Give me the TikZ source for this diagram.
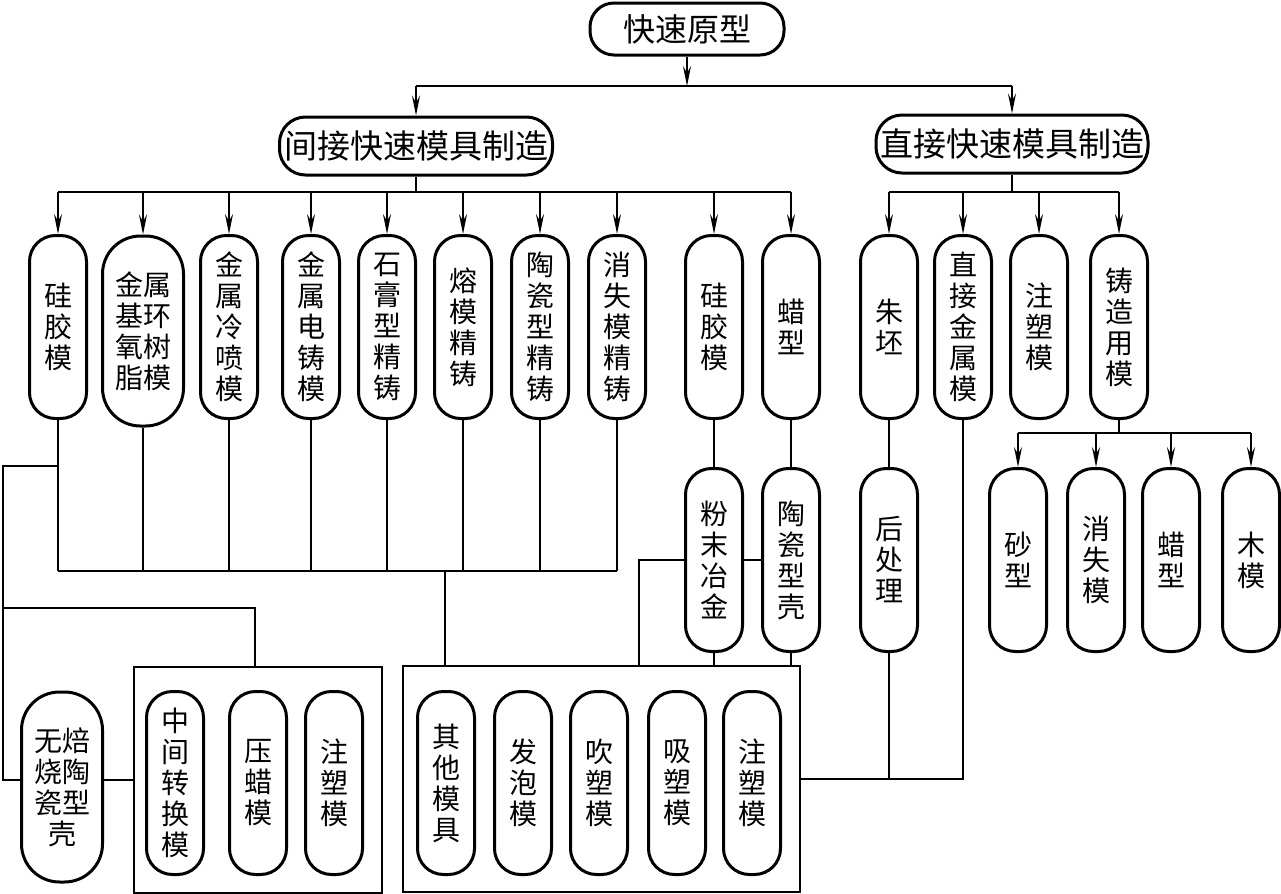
\documentclass[tikz,border=0pt]{standalone}
\usepackage{fontspec}
\setmainfont{Noto Sans CJK SC}
\usetikzlibrary{arrows.meta,fit}

\begin{document}
\begin{tikzpicture}[x=0.5pt, y=-0.5pt, line width=0.7pt,
    every node/.style={font=\fontsize{14pt}{15.5pt}\selectfont, align=center, inner sep=0pt},
    pill/.style={draw, line width=1.5pt, fill=white, rounded corners=13pt, minimum width=28.5pt, minimum height=91.5pt},
    widepill/.style={pill, minimum width=40.5pt, minimum height=95pt, rounded corners=19pt},
    head/.style={draw, line width=1.5pt, fill=white, rounded corners=13pt, minimum height=29pt, font=\fontsize{16.5pt}{18pt}\selectfont},
    arr/.style={-{Stealth[length=10pt, width=4pt, inset=3.5pt]}}]
    \useasboundingbox (0,0) rectangle (1281,894);
    \node[head, minimum width=97pt, minimum height=26pt, rounded corners=12pt, font=\fontsize{16pt}{18pt}\selectfont] (ks) at (687,29) {快速原型};
    \node[head, minimum width=136.5pt] (jj) at (416,146) {间接快速模具制造};
    \node[head, minimum width=136pt] (zz) at (1012,144) {直接快速模具制造};
    \node[pill] (gj1) at (58,327) {硅\\胶\\模};
    \node[widepill] (jh) at (143,331) {金属\\基环\\氧树\\脂模};
    \node[pill] (jl) at (229,327) {金\\属\\冷\\喷\\模};
    \node[pill] (jd) at (311,327) {金\\属\\电\\铸\\模};
    \node[pill] (sg) at (387,327) {石\\膏\\型\\精\\铸};
    \node[pill] (rm) at (463,327) {熔\\模\\精\\铸};
    \node[pill] (tc) at (540,327) {陶\\瓷\\型\\精\\铸};
    \node[pill] (xs) at (617,327) {消\\失\\模\\精\\铸};
    \node[pill] (gj2) at (714,327) {硅\\胶\\模};
    \node[pill] (lx1) at (791,327) {蜡\\型};
    \node[pill] (zp) at (889,327) {朱\\坯};
    \node[pill] (zj) at (963,327) {直\\接\\金\\属\\模};
    \node[pill] (zs1) at (1039,327) {注\\塑\\模};
    \node[pill] (zy) at (1119,327) {铸\\造\\用\\模};
    \node[pill] (fm) at (714,560) {粉\\末\\冶\\金};
    \node[pill] (tk) at (791,560) {陶\\瓷\\型\\壳};
    \node[pill] (hc) at (889,560) {后\\处\\理};
    \node[pill] (sx) at (1018,560) {砂\\型};
    \node[pill] (xm) at (1096,560) {消\\失\\模};
    \node[pill] (lx2) at (1171,560) {蜡\\型};
    \node[pill] (mm) at (1251,560) {木\\模};
    \node[widepill] (wb) at (62,787) {无焙\\烧陶\\瓷型\\壳};
    \node[pill] (zh) at (175,783) {中\\间\\转\\换\\模};
    \node[pill] (yl) at (258,783) {压\\蜡\\模};
    \node[pill] (zs2) at (334,783) {注\\塑\\模};
    \node[pill] (qt) at (446,783) {其\\他\\模\\具};
    \node[pill] (fp) at (523,783) {发\\泡\\模};
    \node[pill] (cs) at (599,783) {吹\\塑\\模};
    \node[pill] (xsu) at (677,783) {吸\\塑\\模};
    \node[pill] (zs3) at (752,783) {注\\塑\\模};
    \node[draw, fit={(134,667) (382,893)}] (box1) {};
    \node[draw, fit={(403,666) (800,892)}] (box2) {};
    \coordinate (h1) at (687,86);
    \coordinate (h2) at (416,192);
    \coordinate (h3) at (1012,192);
    \coordinate (h4) at (1119,433);
    \coordinate (jc) at (445,571);
    \coordinate (lt) at (3,466);
    \coordinate (b1in) at (255,608);
    \coordinate (pm) at (639,560);
    \draw[arr] (ks.south) -- (h1);
    \draw (jj.north |- h1) -- (zz.north |- h1);
    \draw[arr] (jj.north |- h1) -- (jj.north);
    \draw[arr] (zz.north |- h1) -- (zz.north);
    \draw (jj.south) -- (h2);
    \draw (gj1.north |- h2) -- (lx1.north |- h2);
    \foreach \n in {gj1,jh,jl,jd,sg,rm,tc,xs,gj2,lx1}
        \draw[arr] (\n.north |- h2) -- (\n.north);
    \draw (zz.south) -- (h3);
    \draw (zp.north |- h3) -- (zy.north |- h3);
    \foreach \n in {zp,zj,zs1,zy}
        \draw[arr] (\n.north |- h3) -- (\n.north);
    \draw (zy.south) -- (h4);
    \draw (sx.north |- h4) -- (mm.north |- h4);
    \foreach \n in {sx,xm,lx2,mm}
        \draw[arr] (\n.north |- h4) -- (\n.north);
    \foreach \n in {gj1,jh,jl,jd,sg,rm,tc,xs}
        \draw (\n.south) -- (\n.south |- jc);
    \draw (gj1.south |- jc) -- (xs.south |- jc);
    \draw (jc) -- (jc |- box2.north);
    \draw (gj1.south |- lt) -- (lt) -- (lt |- box1.west) -- (box1.west -| wb.west);
    \draw (lt |- b1in) -- (b1in) -- (b1in |- box1.north);
    \draw (wb.east |- box1.west) -- (box1.west);
    \draw (gj2.south) -- (fm.north);
    \draw (lx1.south) -- (tk.north);
    \draw (zp.south) -- (hc.north);
    \draw (tk.west) -- (fm.east);
    \draw (fm.west) -- (pm) -- (pm |- box2.north);
    \draw (fm.south) -- (fm.south |- box2.north);
    \draw (tk.south) -- (tk.south |- box2.north);
    \draw (box2.east) -- (box2.east -| zj.south) -- (zj.south);
    \draw (hc.south) -- (hc.south |- box2.east);
\end{tikzpicture}
\end{document}
